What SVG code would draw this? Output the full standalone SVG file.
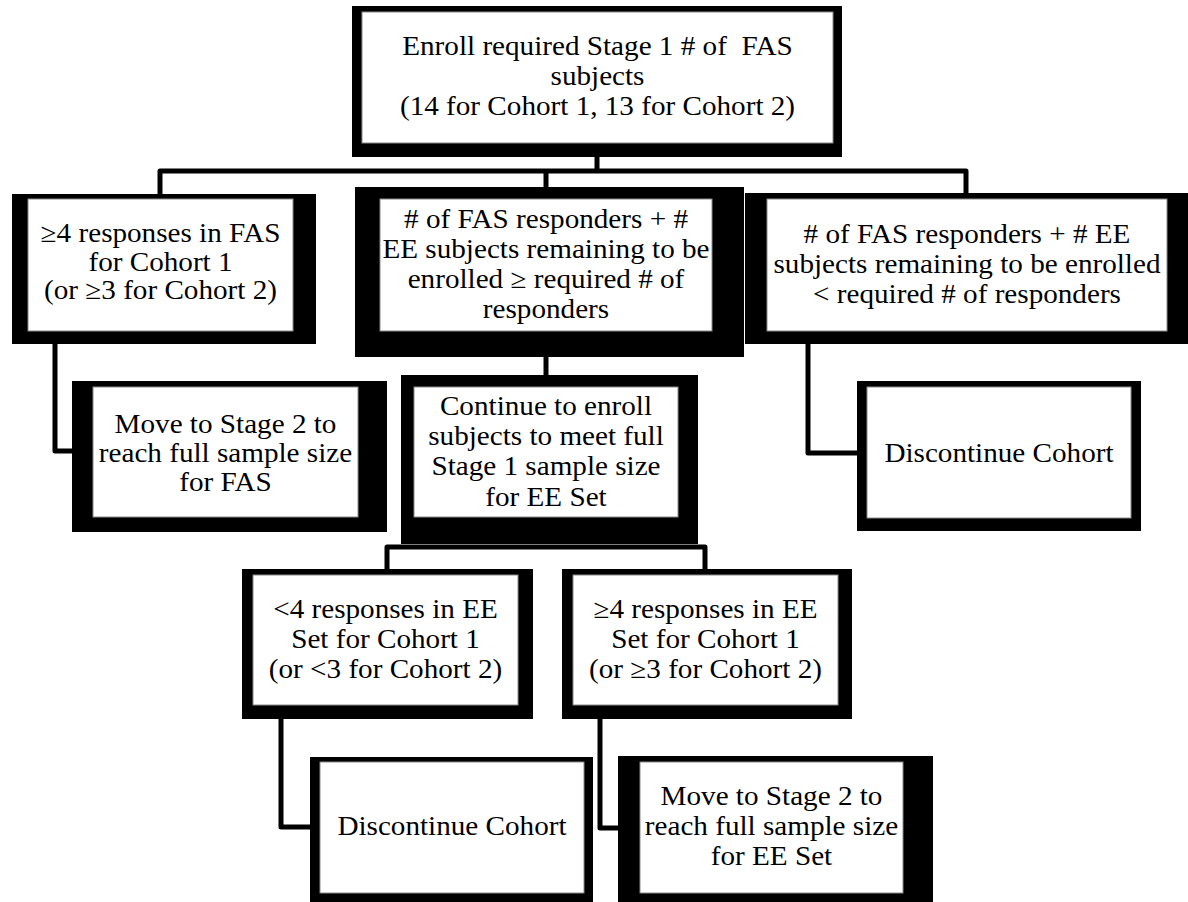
<svg xmlns="http://www.w3.org/2000/svg" width="1188" height="902" viewBox="0 0 1188 902">
<style>
.o{fill:#000}
.i{fill:#fff;stroke:#8a8a8a;stroke-width:1}
text{font-family:'Liberation Serif','Times New Roman','DejaVu Serif',serif;font-size:27px;text-anchor:middle;fill:#000}
.c{fill:none;stroke:#000;stroke-width:5;stroke-linejoin:round;stroke-linecap:butt}
</style>
<rect width="1188" height="902" fill="#fff"/>
<g id="connectors">
<path class="c" d="M597,157 V171"/>
<path class="c" d="M160,194 V171 H966 V193"/>
<path class="c" d="M546,171 V187"/>
<path class="c" d="M546,357 V375"/>
<path class="c" d="M387,569 V547 H705 V569"/>
<path class="c" d="M55,344 V451 H72"/>
<path class="c" d="M808,344 V453 H857"/>
<path class="c" d="M281,719 V827 H310"/>
<path class="c" d="M600,719 V828 H618"/>
</g>
<g font-family="Liberation Serif, Times New Roman, serif" font-size="27" text-anchor="middle">
<g id="enroll">
<rect class="o" x="352" y="6" width="490" height="151"/>
<rect class="i" x="362" y="12" width="471" height="131"/>
<g transform="translate(597.5,0) scale(1.08,1)"><text x="0" y="55">Enroll required Stage 1 # of&#160; FAS</text><text x="0" y="85">subjects</text><text x="0" y="115">(14 for Cohort 1, 13 for Cohort 2)</text></g>
</g>
<g id="fas-responses">
<rect class="o" x="12" y="194" width="304" height="150"/>
<rect class="i" x="28" y="199" width="265" height="132"/>
<g transform="translate(160.5,0) scale(1.08,1)"><text x="0" y="242">≥4 responses in FAS</text><text x="0" y="271">for Cohort 1</text><text x="0" y="299">(or ≥3 for Cohort 2)</text></g>
</g>
<g id="responders-ge">
<rect class="o" x="355" y="187" width="389" height="170"/>
<rect class="i" x="380" y="199" width="332" height="132"/>
<g transform="translate(546,0) scale(1.08,1)"><text x="0" y="228"># of FAS responders + #</text><text x="0" y="258">EE subjects remaining to be</text><text x="0" y="288">enrolled ≥ required # of</text><text x="0" y="318">responders</text></g>
</g>
<g id="responders-lt">
<rect class="o" x="745" y="193" width="443" height="151"/>
<rect class="i" x="767" y="199" width="400" height="132"/>
<g transform="translate(967,0) scale(1.08,1)"><text x="0" y="243"># of FAS responders + # EE</text><text x="0" y="273">subjects remaining to be enrolled</text><text x="0" y="303">&lt; required # of responders</text></g>
</g>
<g id="stage2-fas">
<rect class="o" x="72" y="381" width="315" height="151"/>
<rect class="i" x="93" y="387" width="265" height="130"/>
<g transform="translate(225.5,0) scale(1.08,1)"><text x="0" y="433">Move to Stage 2 to</text><text x="0" y="462">reach full sample size</text><text x="0" y="491">for FAS</text></g>
</g>
<g id="continue">
<rect class="o" x="401" y="375" width="297" height="169"/>
<rect class="i" x="414" y="387" width="264" height="130"/>
<g transform="translate(546,0) scale(1.08,1)"><text x="0" y="415">Continue to enroll</text><text x="0" y="445">subjects to meet full</text><text x="0" y="475">Stage 1 sample size</text><text x="0" y="506">for EE Set</text></g>
</g>
<g id="discontinue-1">
<rect class="o" x="857" y="381" width="284" height="150"/>
<rect class="i" x="867" y="387" width="264" height="131"/>
<g transform="translate(999,0) scale(1.08,1)"><text x="0" y="462">Discontinue Cohort</text></g>
</g>
<g id="ee-lt">
<rect class="o" x="242" y="569" width="291" height="150"/>
<rect class="i" x="253" y="575" width="265" height="130"/>
<g transform="translate(385.5,0) scale(1.08,1)"><text x="0" y="618">&lt;4 responses in EE</text><text x="0" y="648">Set for Cohort 1</text><text x="0" y="678">(or &lt;3 for Cohort 2)</text></g>
</g>
<g id="ee-ge">
<rect class="o" x="562" y="569" width="290" height="150"/>
<rect class="i" x="573" y="575" width="265" height="130"/>
<g transform="translate(705.5,0) scale(1.08,1)"><text x="0" y="618">≥4 responses in EE</text><text x="0" y="648">Set for Cohort 1</text><text x="0" y="678">(or ≥3 for Cohort 2)</text></g>
</g>
<g id="discontinue-2">
<rect class="o" x="310" y="757" width="283" height="145"/>
<rect class="i" x="320" y="762" width="264" height="131"/>
<g transform="translate(452,0) scale(1.08,1)"><text x="0" y="835">Discontinue Cohort</text></g>
</g>
<g id="stage2-ee">
<rect class="o" x="618" y="756" width="315" height="146"/>
<rect class="i" x="640" y="762" width="263" height="131"/>
<g transform="translate(771.5,0) scale(1.08,1)"><text x="0" y="805">Move to Stage 2 to</text><text x="0" y="835">reach full sample size</text><text x="0" y="865">for EE Set</text></g>
</g>
</g>
</svg>
